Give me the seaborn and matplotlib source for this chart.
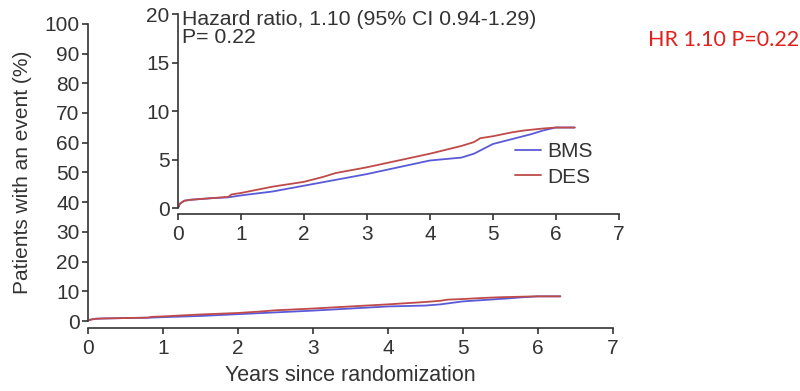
import numpy as np
import pandas as pd
import matplotlib
matplotlib.use("Agg")
import matplotlib.pyplot as plt
import seaborn as sns

# ---- data ----
des_t = [0, 0.03, 0.1, 0.2, 0.3, 0.5, 0.8, 0.85, 1.0, 1.5, 2.0, 2.3, 2.5, 3.0, 3.5, 4.0, 4.5, 4.7, 4.8, 5.0, 5.3, 5.5, 5.8, 6.0, 6.3]
des_v = [0, 0.45, 0.75, 0.85, 0.9, 1.0, 1.15, 1.4, 1.55, 2.2, 2.7, 3.2, 3.6, 4.2, 4.9, 5.6, 6.4, 6.8, 7.2, 7.4, 7.8, 8.0, 8.2, 8.3, 8.3]
bms_t = [0, 0.03, 0.1, 0.2, 0.3, 0.5, 0.8, 1.0, 1.5, 2.0, 2.5, 3.0, 3.5, 4.0, 4.5, 4.7, 5.0, 5.3, 5.6, 5.8, 6.0, 6.3]
bms_v = [0, 0.45, 0.75, 0.85, 0.9, 1.0, 1.1, 1.3, 1.7, 2.3, 2.9, 3.5, 4.2, 4.9, 5.2, 5.6, 6.6, 7.1, 7.6, 8.0, 8.3, 8.3]
groups = ["BMS", "DES"]
main_yticks = list(range(0, 101, 10))
inset_yticks = [0, 5, 10, 15, 20]
xticks = list(range(0, 8))

df = pd.concat([
    pd.DataFrame({"t": bms_t, "v": bms_v, "group": "BMS"}),
    pd.DataFrame({"t": des_t, "v": des_v, "group": "DES"}),
], ignore_index=True)

palette = {"BMS": "#5a5ad8", "DES": "#bf4a4a"}

sns.set_style("ticks")
plt.rcParams["font.family"] = ["Liberation Sans", "DejaVu Sans"]
axis_col = "#333333"
plt.rcParams.update({
    "axes.edgecolor": axis_col, "xtick.color": axis_col, "ytick.color": axis_col,
    "axes.labelcolor": axis_col, "text.color": axis_col,
    "axes.linewidth": 1.2, "xtick.major.width": 1.2, "ytick.major.width": 1.2,
    "xtick.major.size": 4, "ytick.major.size": 4,
})

fig = plt.figure(figsize=(8, 3.91), dpi=100)

# main axes
ax = fig.add_axes([0.11, 0.179, 0.656, 0.760])
sns.lineplot(data=df, x="t", y="v", hue="group", hue_order=groups, palette=palette,
             ax=ax, legend=False, linewidth=1.3, estimator=None)
ax.set_xlim(0, 7)
ax.set_ylim(0, 100)
ax.set_xticks(xticks)
ax.set_yticks(main_yticks)
ax.tick_params(labelsize=15)
ax.tick_params(axis="y", pad=2)
ax.tick_params(axis="x", pad=4)
for s in ["top", "right"]:
    ax.spines[s].set_visible(False)
ax.spines["bottom"].set_position(("outward", 5))
ax.set_xlabel("Years since randomization", fontsize=15.5, labelpad=5)
ax.set_ylabel("Patients with an event (%)", fontsize=15, labelpad=9)

# inset axes
ax2 = fig.add_axes([0.2225, 0.468, 0.551, 0.496])
ax2.patch.set_alpha(0)
sns.lineplot(data=df, x="t", y="v", hue="group", hue_order=groups, palette=palette,
             ax=ax2, linewidth=1.3, estimator=None)
ax2.set_xlim(0, 7)
ax2.set_ylim(0, 20)
ax2.set_xticks(xticks)
ax2.set_yticks(inset_yticks)
ax2.tick_params(labelsize=15)
ax2.tick_params(axis="y", pad=2)
ax2.tick_params(axis="x", pad=4)
for s in ["top", "right"]:
    ax2.spines[s].set_visible(False)
ax2.spines["bottom"].set_position(("outward", 4))
ax2.set_xlabel("")
ax2.set_ylabel("")
ax2.text(0.01, 1.02, "Hazard ratio, 1.10 (95% CI 0.94-1.29)\nP= 0.22", transform=ax2.transAxes,
         va="top", ha="left", fontsize=15.3, linespacing=0.95)
leg = ax2.legend(loc="center left", bbox_to_anchor=(0.722, 0.225), frameon=False,
                 handlelength=1.25, handletextpad=0.3, labelspacing=0.3, fontsize=15)

fig.text(648 / 800, 1 - 40 / 391, "HR 1.10 P=0.22", color="#e3211c", fontsize=15.5,
         family=["Lato", "DejaVu Sans"], va="center", ha="left")

fig.savefig("out.png", dpi=100)
